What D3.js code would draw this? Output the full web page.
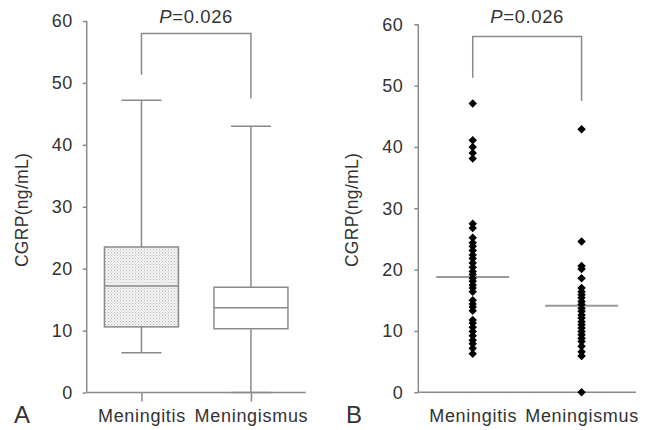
<!DOCTYPE html>
<html>
<head>
<meta charset="utf-8">
<script src="https://cdn.jsdelivr.net/npm/d3@7"></script>
<style>
  html, body { margin: 0; padding: 0; background: #fff; }
  svg { display: block; }
  text { font-family: "Liberation Sans", Arial, sans-serif; fill: #333; }
</style>
</head>
<body>
<svg id="chart" width="659" height="430"></svg>
<script>
// ---- data ----
const categories = ["Meningitis", "Meningismus"];
// box stats: [min, q1, median, q3, max]
const meningitisBox = [6.4, 10.6, 17.2, 23.5, 47.2];
const meningismusBox = [0, 10.3, 13.7, 17.0, 43.0];
const meningitisValues = [47.1, 41.1, 40.0, 39.0, 38.1, 27.5, 26.8,
  25.2, 24.4, 23.8, 23.1, 22.4, 21.8, 21.1, 20.4, 19.7, 19.2, 18.6, 18.1, 17.5, 17.0, 16.4,
  15.0, 14.4, 13.9, 13.3, 11.8, 11.3, 10.6, 9.9, 9.2, 8.5, 7.9, 7.2, 6.3];
const meningismusValues = [42.9, 24.6, 20.6, 20.1, 18.6,
  17.0, 16.4, 15.9, 15.4, 14.8, 14.3, 13.7, 13.2, 12.6, 12.1, 11.5, 11.0, 10.5, 9.9, 9.4,
  8.8, 8.3, 7.5, 6.6, 5.9, 0];
const dotMedians = [18.8, 14.1];
const yTicks = [0, 10, 20, 30, 40, 50, 60];
const pLabel = "0.026";
const yLabel = "CGRP(ng/mL)";
const panelLabels = ["A", "B"];
const bracket = { top: 58, left: 51.3, right: 47.5 };

// ---- drawing ----
const svg = d3.select("#chart");
const gray = "#8a8a8a";

function panel(opts) {
  const g = svg.append("g");
  const y = d3.scaleLinear().domain([0, 60]).range([opts.y0, opts.y60]);
  const x = d3.scalePoint().domain(categories).range([opts.xl, opts.xr]).padding(0.5);

  // y axis
  const ya = g.append("g").attr("transform", `translate(${opts.xl},0)`)
    .call(d3.axisLeft(y).tickValues(yTicks).tickSize(4).tickPadding(opts.tickPad).tickFormat(d3.format("d")));
  ya.select(".domain").attr("stroke", gray).attr("stroke-width", 1.5).attr("d", `M0,${opts.y60}V${opts.y0}`);
  ya.selectAll(".tick line").attr("stroke", gray).attr("stroke-width", 1.5);
  ya.selectAll(".tick text").attr("font-size", 18).attr("fill", "#333").attr("letter-spacing", 0.5)
    .style("font-family", "'Liberation Sans', Arial, sans-serif");

  // x axis
  const xa = g.append("g").attr("transform", `translate(0,${opts.y0})`)
    .call(d3.axisBottom(x).tickSize(opts.xTicks ? 9 : 0).tickPadding(opts.xTicks ? 7 : 16));
  xa.select(".domain").attr("stroke", gray).attr("stroke-width", 1.5).attr("d", `M${opts.xl},0H${opts.xr}`);
  xa.selectAll(".tick line").attr("stroke", gray).attr("stroke-width", 1.5);
  xa.selectAll(".tick text").attr("font-size", 18).attr("fill", "#333").attr("letter-spacing", 0.7)
    .attr("dy", null).attr("y", 422 - opts.y0).attr("dominant-baseline", "alphabetic")
    .style("font-family", "'Liberation Sans', Arial, sans-serif");

  // y label
  g.append("text")
    .attr("transform", `translate(${opts.labX},210) rotate(-90)`)
    .attr("text-anchor", "middle").attr("font-size", 17.5).attr("letter-spacing", 0.3)
    .text(yLabel);

  // panel letter
  g.append("text").attr("x", opts.letterX).attr("y", 423).attr("font-size", 24).attr("fill", "#111")
    .text(opts.letter);

  // bracket
  const xa1 = x(categories[0]), xa2 = x(categories[1]);
  g.append("path")
    .attr("d", `M${xa1},${y(bracket.left)}V${y(bracket.top)}H${xa2}V${y(bracket.right)}`)
    .attr("fill", "none").attr("stroke", gray).attr("stroke-width", 1.5);
  const pt = g.append("text").attr("x", (xa1 + xa2) / 2).attr("y", 22.5)
    .attr("text-anchor", "middle").attr("font-size", 18.5).attr("letter-spacing", 0.6);
  pt.append("tspan").attr("font-style", "italic").text("P");
  pt.append("tspan").text("=" + pLabel);

  return { g, x, y };
}

// Panel A: box plot
const A = panel({ xl: 86.7, xr: 305.7, y0: 392.5, y60: 21, tickPad: 10, xTicks: true, labX: 28.3, letterX: 14, letter: panelLabels[0] });

const defs = svg.append("defs");
const pat = defs.append("pattern").attr("id", "stipple").attr("patternUnits", "userSpaceOnUse")
  .attr("width", 3).attr("height", 3);
pat.append("rect").attr("width", 3).attr("height", 3).attr("fill", "#f4f4f4");
pat.append("rect").attr("x", 0).attr("y", 0).attr("width", 1).attr("height", 1).attr("fill", "#b8b8b8");
pat.append("rect").attr("x", 1.5).attr("y", 1.5).attr("width", 1).attr("height", 1).attr("fill", "#cfcfcf");

const boxes = [
  { cat: categories[0], s: meningitisBox, fill: "url(#stipple)" },
  { cat: categories[1], s: meningismusBox, fill: "#fff" }
];
const boxW = 74, capW = 40;
boxes.forEach(b => {
  const cx = A.x(b.cat), [mn, q1, md, q3, mx] = b.s;
  const line = (x1, y1, x2, y2) => A.g.append("line").attr("x1", x1).attr("y1", y1).attr("x2", x2).attr("y2", y2)
    .attr("stroke", gray).attr("stroke-width", 1.5);
  line(cx, A.y(mx), cx, A.y(q3));
  line(cx, A.y(q1), cx, A.y(mn));
  line(cx - capW / 2, A.y(mx), cx + capW / 2, A.y(mx));
  line(cx - capW / 2, A.y(mn), cx + capW / 2, A.y(mn));
  A.g.append("rect").attr("x", cx - boxW / 2).attr("y", A.y(q3)).attr("width", boxW).attr("height", A.y(q1) - A.y(q3))
    .attr("fill", b.fill).attr("stroke", gray).attr("stroke-width", 1.5);
  line(cx - boxW / 2, A.y(md), cx + boxW / 2, A.y(md));
});

// Panel B: dot plot
const B = panel({ xl: 418.3, xr: 636, y0: 392.3, y60: 24.3, tickPad: 11, xTicks: false, labX: 358.3, letterX: 346, letter: panelLabels[1] });
const medW = 73;
categories.forEach((c, i) => {
  B.g.append("line").attr("x1", B.x(c) - medW / 2).attr("x2", B.x(c) + medW / 2)
    .attr("y1", B.y(dotMedians[i])).attr("y2", B.y(dotMedians[i]))
    .attr("stroke", "#9a9a9a").attr("stroke-width", 2);
});
const sym = d3.symbol().type(d3.symbolSquare).size(36);
[meningitisValues, meningismusValues].forEach((vals, i) => {
  B.g.selectAll(null).data(vals).enter().append("path")
    .attr("d", sym)
    .attr("transform", d => `translate(${B.x(categories[i])},${B.y(d)}) rotate(45)`)
    .attr("fill", "#000");
});
</script>
</body>
</html>
